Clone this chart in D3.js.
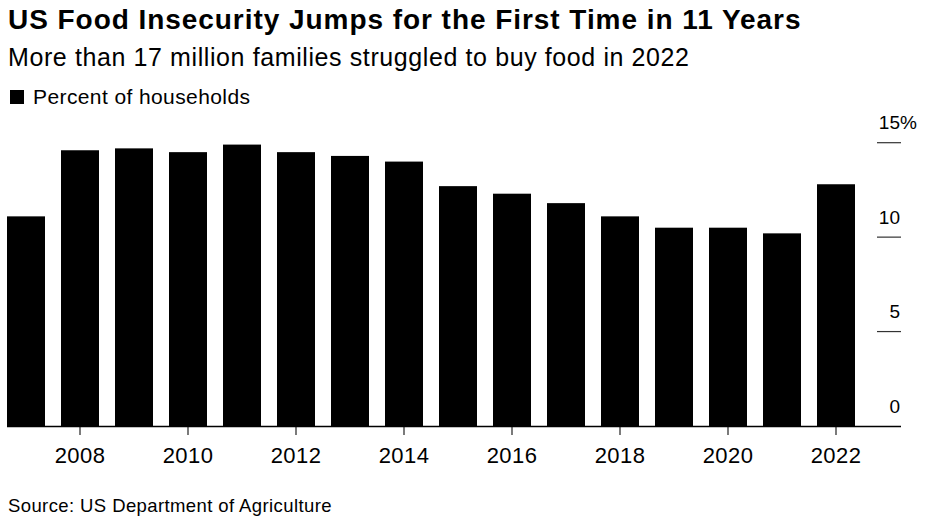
<!DOCTYPE html>
<html>
<head>
<meta charset="utf-8">
<script src="https://cdn.jsdelivr.net/npm/d3@7"></script>
<style>
  body { margin: 0; background: #fff; }
  svg { display: block; font-family: "Liberation Sans", Arial, sans-serif; }
</style>
</head>
<body>
<svg id="chart"></svg>
<script>
// US household food insecurity, percent of households
const years = [2007, 2008, 2009, 2010, 2011, 2012, 2013, 2014, 2015, 2016, 2017, 2018, 2019, 2020, 2021, 2022];
const pct = [11.1, 14.6, 14.7, 14.5, 14.9, 14.5, 14.3, 14.0, 12.7, 12.3, 11.8, 11.1, 10.5, 10.5, 10.2, 12.8];
const yTicks = [0, 5, 10, 15];
const xTickYears = [2008, 2010, 2012, 2014, 2016, 2018, 2020, 2022];

const width = 929, height = 522;
const svg = d3.select('#chart').attr('width', width).attr('height', height);

// Header texts
svg.append('text')
  .attr('x', 8).attr('y', 28.5)
  .style('font-size', '28px').style('font-weight', 'bold')
  .style('letter-spacing', '0.95px')
  .text('US Food Insecurity Jumps for the First Time in 11 Years');

svg.append('text')
  .attr('x', 8).attr('y', 66)
  .style('font-size', '25px')
  .style('letter-spacing', '0.6px')
  .text('More than 17 million families struggled to buy food in 2022');

// Legend
svg.append('rect').attr('x', 10).attr('y', 90).attr('width', 14).attr('height', 14).attr('fill', '#000');
svg.append('text')
  .attr('x', 33).attr('y', 103.5)
  .style('font-size', '21px')
  .style('letter-spacing', '0.4px')
  .text('Percent of households');

// Scales
const x = d3.scaleBand()
  .domain(years)
  .range([7, 855])
  .paddingInner(16 / 54)
  .paddingOuter(0);

const y = d3.scaleLinear()
  .domain([0, 15])
  .range([426, 142.7]);

// Bars
svg.append('g')
  .selectAll('rect')
  .data(years)
  .join('rect')
  .attr('x', d => x(d))
  .attr('y', (d, i) => y(pct[i]))
  .attr('width', x.bandwidth())
  .attr('height', (d, i) => y(0) - y(pct[i]))
  .attr('fill', '#000');

// Y axis: short tick lines on the right with labels above
const yAxis = svg.append('g');
yAxis.selectAll('line')
  .data(yTicks.filter(t => t > 0))
  .join('line')
  .attr('x1', 877).attr('x2', 901)
  .attr('y1', d => y(d)).attr('y2', d => y(d))
  .attr('stroke', '#333').attr('stroke-width', 1.2);

yAxis.selectAll('text')
  .data(yTicks)
  .join('text')
  .attr('x', 900)
  .attr('y', d => y(d) - 13.5)
  .attr('text-anchor', 'end')
  .style('font-size', '19px')
  .text(d => d);
// "%" hangs off the right of the top label
yAxis.append('text')
  .attr('x', 900).attr('y', y(15) - 13.5)
  .style('font-size', '19px')
  .text('%');

// X axis
const xAxis = d3.axisBottom(x)
  .tickValues(xTickYears)
  .tickSize(9)
  .tickPadding(12.4)
  .tickSizeOuter(0);

const gx = svg.append('g')
  .attr('transform', `translate(0,${y(0)})`)
  .call(xAxis);
gx.select('.domain').remove();
gx.append('line')
  .attr('x1', 7).attr('x2', 901)
  .attr('y1', 0.5).attr('y2', 0.5)
  .attr('stroke', '#000').attr('stroke-width', 1.5);
gx.selectAll('.tick line').attr('stroke', '#333').attr('stroke-width', 1.3);
gx.selectAll('.tick text')
  .attr('fill', '#000')
  .style('font-size', '22px')
  .style('letter-spacing', '0.4px')
  .style('font-family', '"Liberation Sans", Arial, sans-serif');

// Source
svg.append('text')
  .attr('x', 8).attr('y', 511.5)
  .style('font-size', '18.5px')
  .style('letter-spacing', '0.4px')
  .text('Source: US Department of Agriculture');
</script>
</body>
</html>
